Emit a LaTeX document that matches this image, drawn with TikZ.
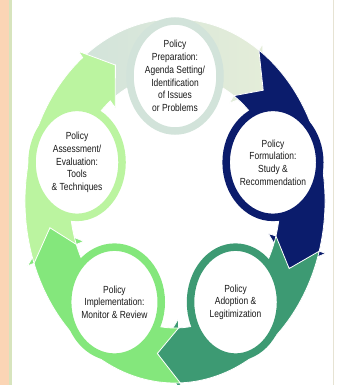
\documentclass[tikz,border=0pt]{standalone}
\usepackage{fontspec}
\newfontfamily\stagefont[FakeStretch=0.82]{Liberation Sans}
\usetikzlibrary{shapes.geometric}
\definecolor{peachstrip}{HTML}{FBD5B5}
\definecolor{greenstrip}{HTML}{D7E4BD}
\definecolor{frameline}{HTML}{E6E3D3}
\definecolor{prepcol}{HTML}{D2E3DA}
\definecolor{preplight}{HTML}{E4EDD9}
\definecolor{formcol}{HTML}{0B1C6C}
\definecolor{adopcol}{HTML}{3D9A73}
\definecolor{implcol}{HTML}{84E77C}
\definecolor{assecol}{HTML}{BBF4A0}

\tikzset{
  stage/.style={ellipse, fill=white, line width=7.5pt, minimum width=90pt, minimum height=110pt,
    inner sep=0pt, align=center, text=black!90,
    font=\stagefont\fontsize{10.3}{12.7}\selectfont},
  band/.style={draw=white, line width=0.8pt}
}

\begin{document}
\begin{tikzpicture}[x=1pt, y=1pt]
        \useasboundingbox (0,0) rectangle (337,-385);
        \clip (0,0) rectangle (337,-385);
        % page strips
        \fill[peachstrip] (0,0) rectangle (8.5,-385);
        \fill[greenstrip] (8.5,0) rectangle (12,-385);
        \draw[frameline, line width=1pt] (333.5,0) -- (333.5,-385);

        \begin{scope}[shift={(175,-201)}]
        % curved arrows, one per stage
        \foreach \ang/\lc/\rc in {90/prepcol/preplight, 18/formcol/formcol, -54/adopcol/adopcol,
                                  -126/implcol/implcol, 162/assecol/assecol}{
          \path[band, left color=\lc, right color=\rc] ({\ang+38}:150pt and 182pt)
            arc[start angle=\ang+38, end angle=\ang-34, x radius=150pt, y radius=182pt]
            -- ({\ang-34}:157pt and 190pt)
            -- ({\ang-44}:127pt and 154pt)
            -- ({\ang-34}:97pt and 118pt)
            -- ({\ang-34}:105pt and 127pt)
            arc[start angle=\ang-34, end angle=\ang+38, x radius=105pt, y radius=127pt]
            -- ({\ang+28}:127pt and 154pt) -- cycle;
        }
        % stages
        \node[stage, draw=prepcol] (prep) at (90:103pt and 125pt)
          {Policy\\Preparation:\\Agenda Setting/\\Identification\\of Issues\\or Problems};
        \node[stage, draw=formcol] (form) at (18:103pt and 125pt)
          {Policy\\Formulation:\\Study \&\\Recommendation};
        \node[stage, draw=adopcol] (adop) at (-54:103pt and 125pt)
          {Policy\\Adoption \&\\Legitimization};
        \node[stage, draw=implcol] (impl) at (-126:103pt and 125pt)
          {Policy\\Implementation:\\Monitor \& Review};
        \node[stage, draw=assecol] (asse) at (162:103pt and 125pt)
          {Policy\\Assessment/\\Evaluation:\\Tools\\\& Techniques};
        \end{scope}
\end{tikzpicture}
\end{document}
